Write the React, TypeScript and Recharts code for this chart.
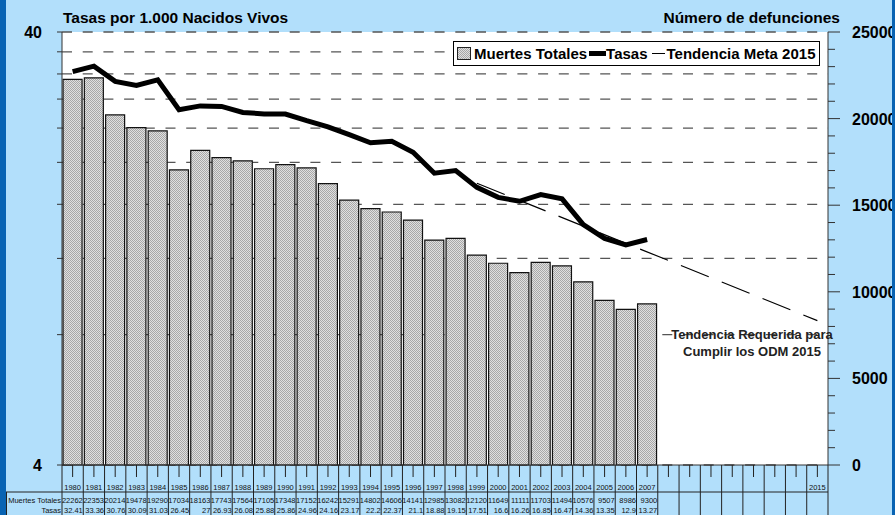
import React from 'react';
import { ComposedChart, Bar, Line, XAxis, YAxis, CartesianGrid, Legend } from 'recharts';

const categories = [
  '1980', '1981', '1982', '1983', '1984', '1985', '1986', '1987', '1988', '1989',
  '1990', '1991', '1992', '1993', '1994', '1995', '1996', '1997', '1998', '1999',
  '2000', '2001', '2002', '2003', '2004', '2005', '2006', '2007', '2008', '2009',
  '2010', '2011', '2012', '2013', '2014', '2015',
];

const yearTickLabels = [
  '1980', '1981', '1982', '1983', '1984', '1985', '1986', '1987', '1988', '1989',
  '1990', '1991', '1992', '1993', '1994', '1995', '1996', '1997', '1998', '1999',
  '2000', '2001', '2002', '2003', '2004', '2005', '2006', '2007', '', '',
  '', '', '', '', '', '2015',
];

const muertesTotales = [
  22262, 22353, 20214, 19478, 19290, 17034, 18163, 17743, 17564, 17105,
  17348, 17152, 16242, 15291, 14802, 14606, 14141, 12985, 13082, 12120,
  11649, 11111, 11703, 11494, 10576, 9507, 8986, 9300,
];

const tasas = [
  32.41, 33.36, 30.76, 30.09, 31.03, 26.45, 27, 26.93, 26.08, 25.88,
  25.86, 24.96, 24.16, 23.17, 22.2, 22.37, 21.1, 18.88, 19.15, 17.51,
  16.6, 16.26, 16.85, 16.47, 14.36, 13.35, 12.9, 13.27,
];

const metaYears = ['1999', '2015'];
const metaValues = [17.9, 8.62];

const leftTicks = [4, 8, 12, 16, 20, 24, 28, 32, 36, 40];
const leftLabelledTicks = [4, 40];
const rightTicks = [
  0, 1000, 2000, 3000, 4000, 5000, 6000, 7000, 8000, 9000, 10000, 11000, 12000,
  13000, 14000, 15000, 16000, 17000, 18000, 19000, 20000, 21000, 22000, 23000,
  24000, 25000,
];
const rightMajorTicks = [0, 5000, 10000, 15000, 20000, 25000];

const rowLabels = ['Muertes Totales', 'Tasas'];
const seriesNames = { muertes: 'Muertes Totales', tasas: 'Tasas', meta: 'Tendencia Meta 2015' };

const rows = categories.map((year, i) => {
  const mi = metaYears.indexOf(year);
  return {
    year,
    muertes: i < muertesTotales.length ? muertesTotales[i] : null,
    tasas: i < tasas.length ? tasas[i] : null,
    meta: mi >= 0 ? metaValues[mi] : null,
  };
});

const FONT = '"Liberation Sans", Arial, Helvetica, sans-serif';
const LIGHT = '#B2DFFB';
const DARK = '#0863B3';
const W = 895;
const H = 515;
const PLOT_LEFT = 62;
const PLOT_RIGHT = 828;
const PLOT_TOP = 32;
const PLOT_BOTTOM = 465;
const BW = (PLOT_RIGHT - PLOT_LEFT) / categories.length;

const XTick = (props: any) => {
  const { x, y, payload } = props;
  const i = payload.index;
  const m = i < muertesTotales.length ? String(muertesTotales[i]) : '';
  const t = i < tasas.length ? String(tasas[i]) : '';
  return (
    <g fontFamily={FONT} fontSize={7.5} fill="#111">
      <line x1={x} y1={y} x2={x} y2={y + 12} stroke="#222" strokeWidth={1} />
      <line x1={x + BW / 2} y1={y} x2={x + BW / 2} y2={H} stroke="#222" strokeWidth={1} />
      {i === 0 && <line x1={x - BW / 2} y1={y} x2={x - BW / 2} y2={H} stroke="#222" strokeWidth={1} />}
      <text x={x} y={y + 25} textAnchor="middle">{yearTickLabels[i]}</text>
      <text x={x + BW / 2 - 0.5} y={y + 38} textAnchor="end">{m}</text>
      <text x={x + BW / 2 - 0.5} y={y + 48} textAnchor="end">{t}</text>
    </g>
  );
};

const LeftTick = (props: any) => {
  const { x, y, payload } = props;
  const v = payload.value;
  return (
    <g>
      <line x1={x - 5} y1={y} x2={x} y2={y} stroke="#333" strokeWidth={1} />
      {leftLabelledTicks.includes(v) && (
        <text x={x - 20} y={y + 6} textAnchor="end" fontFamily={FONT} fontSize={16} fontWeight="bold" fill="#000">
          {v}
        </text>
      )}
    </g>
  );
};

const RightTick = (props: any) => {
  const { x, y, payload } = props;
  const v = payload.value;
  const major = rightMajorTicks.includes(v);
  return (
    <g>
      <line x1={x} y1={y} x2={x + (major ? 12 : 7)} y2={y} stroke="#333" strokeWidth={1} />
      {major && (
        <text x={x + 24} y={y + 6} textAnchor="start" fontFamily={FONT} fontSize={16} fontWeight="bold" fill="#000">
          {v}
        </text>
      )}
    </g>
  );
};

const HatchSwatch = () => (
  <svg width={14} height={13} style={{ display: 'block' }}>
    <defs>
      <pattern id="hatchLegend" width="2" height="2" patternUnits="userSpaceOnUse">
        <rect width="2" height="2" fill="#e0e0e0" />
        <rect width="1" height="1" fill="#a8a8a8" />
        <rect x="1" y="1" width="1" height="1" fill="#a8a8a8" />
      </pattern>
    </defs>
    <rect x={0.5} y={0.5} width={13} height={12} fill="url(#hatchLegend)" stroke="#222" strokeWidth={1} />
  </svg>
);

const LegendContent = (props: any) => {
  const payload = props.payload || [];
  return (
    <div
      style={{
        display: 'flex', alignItems: 'center', height: 25, boxSizing: 'border-box',
        border: '1px solid #000', background: '#fff', paddingLeft: 3,
        fontFamily: FONT, fontWeight: 'bold', fontSize: 15, color: '#000', whiteSpace: 'nowrap',
      }}
    >
      {payload.map((item: any) => {
        const key = item.dataKey as string;
        let marker: any = null;
        if (key === 'muertes') marker = <HatchSwatch />;
        else if (key === 'tasas') marker = <div style={{ width: 17, height: 5, background: '#000', marginLeft: 2 }} />;
        else marker = <div style={{ width: 13, height: 1.2, background: '#000', marginLeft: 4, marginRight: 2 }} />;
        return (
          <div key={key} style={{ display: 'flex', alignItems: 'center' }}>
            {marker}
            <span style={{ marginLeft: key === 'muertes' ? 3 : 0 }}>{seriesNames[key as keyof typeof seriesNames]}</span>
          </div>
        );
      })}
    </div>
  );
};

export default function App() {
  return (
    <div style={{ position: 'absolute', left: 0, top: 0, width: W, height: H, background: LIGHT, overflow: 'hidden' }}>
      <ComposedChart
        width={W}
        height={H}
        data={rows}
        margin={{ top: PLOT_TOP, right: 0, bottom: 0, left: 0 }}
        barCategoryGap="5%"
      >
        <defs>
          <pattern id="hatch" width="2" height="2" patternUnits="userSpaceOnUse">
            <rect width="2" height="2" fill="#e0e0e0" />
            <rect width="1" height="1" fill="#a8a8a8" />
            <rect x="1" y="1" width="1" height="1" fill="#a8a8a8" />
          </pattern>
        </defs>
        <CartesianGrid
          yAxisId="left"
          vertical={false}
          fill="#fff"
          stroke="#555"
          strokeWidth={1.3}
          strokeDasharray="10 10.7"
        />
        <XAxis
          dataKey="year"
          height={H - PLOT_BOTTOM}
          interval={0}
          tickSize={0}
          tickMargin={0}
          tickLine={false}
          axisLine={{ stroke: '#333', strokeWidth: 1 }}
          tick={<XTick />}
        />
        <YAxis
          yAxisId="left"
          orientation="left"
          width={PLOT_LEFT}
          type="number"
          scale="log"
          domain={[4, 40]}
          allowDataOverflow
          ticks={leftTicks}
          interval={0}
          tickSize={0}
          tickMargin={0}
          tickLine={false}
          axisLine={{ stroke: '#333', strokeWidth: 1 }}
          tick={<LeftTick />}
        />
        <YAxis
          yAxisId="right"
          orientation="right"
          width={W - PLOT_RIGHT}
          type="number"
          domain={[0, 25000]}
          ticks={rightTicks}
          interval={0}
          tickSize={0}
          tickMargin={0}
          tickLine={false}
          axisLine={{ stroke: '#333', strokeWidth: 1 }}
          tick={<RightTick />}
        />
        <Bar
          yAxisId="right"
          dataKey="muertes"
          name={seriesNames.muertes}
          fill="url(#hatch)"
          stroke="#111"
          strokeWidth={1.2}
          isAnimationActive={false}
        />
        <Line
          yAxisId="left"
          dataKey="tasas"
          name={seriesNames.tasas}
          type="linear"
          stroke="#000"
          strokeWidth={5}
          dot={false}
          activeDot={false}
          isAnimationActive={false}
        />
        <Line
          yAxisId="left"
          dataKey="meta"
          name={seriesNames.meta}
          type="linear"
          stroke="#000"
          strokeWidth={1.2}
          strokeDasharray="30 14"
          connectNulls
          dot={false}
          activeDot={false}
          isAnimationActive={false}
        />
        <Legend
          layout="horizontal"
          verticalAlign="middle"
          align="center"
          content={<LegendContent />}
          wrapperStyle={{ position: 'absolute', left: 453, top: 41, width: 367, height: 25 }}
        />
      </ComposedChart>
      <svg
        width={W}
        height={H}
        style={{ position: 'absolute', left: 0, top: 0, pointerEvents: 'none' }}
        fontFamily={FONT}
      >
        <text x={63} y={23} fontSize={15.5} fontWeight="bold" fill="#000">Tasas por 1.000 Nacidos Vivos</text>
        <text x={840} y={23} fontSize={15.5} fontWeight="bold" fill="#000" textAnchor="end">Número de defunciones</text>
        <text x={752} y={339} fontSize={13} fontWeight="bold" fill="#222" textAnchor="middle">Tendencia Requerida para</text>
        <text x={752} y={355.5} fontSize={13} fontWeight="bold" fill="#222" textAnchor="middle">Cumplir los ODM 2015</text>
        <line x1={6} y1={492} x2={PLOT_RIGHT} y2={492} stroke="#222" strokeWidth={1} />
        <line x1={6.5} y1={492} x2={6.5} y2={H} stroke="#222" strokeWidth={1} />
        <text x={61} y={503} fontSize={7.5} fill="#111" textAnchor="end">{rowLabels[0]}</text>
        <text x={61} y={513} fontSize={7.5} fill="#111" textAnchor="end">{rowLabels[1]}</text>
        <rect x={0} y={0} width={6} height={H} fill={DARK} />
        <rect x={892} y={0} width={3} height={H} fill={DARK} />
      </svg>
    </div>
  );
}
